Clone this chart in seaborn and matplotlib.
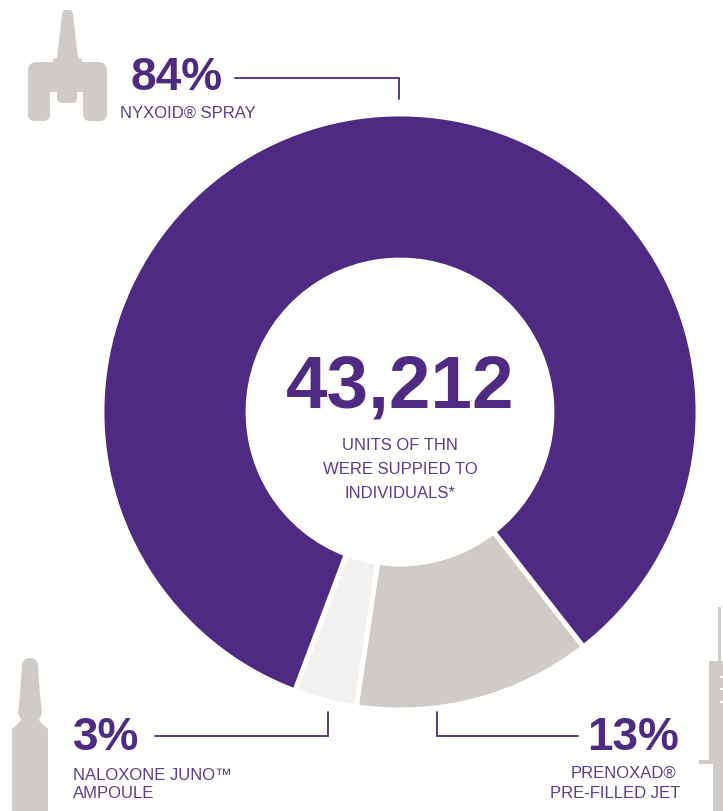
import seaborn as sns
import matplotlib.pyplot as plt
from matplotlib.patches import FancyBboxPatch, Polygon, Rectangle

products = ['PRENOXAD PRE-FILLED JET', 'NALOXONE JUNO AMPOULE', 'NYXOID SPRAY']
shares = [13, 3, 84]
# slice sizes, a bit different from the printed labels
slice_sizes = [12.9, 3.4, 83.7]
total_units = '43,212'

purple = '#4F2A82'
text_purple = '#5A3D8A'
grey = '#D0CBC6'
light = '#F2F1EF'
slice_colors = [grey, light, purple]

sns.set_theme(style='white')
plt.rcParams['font.family'] = ['Liberation Sans', 'DejaVu Sans']

W, H = 723, 811
fig = plt.figure(figsize=(W / 100, H / 100), dpi=100, facecolor='white')

# donut axes, placed in pixels
cx, cy, r = 400, 412, 298
ax = fig.add_axes([(cx - r) / W, (H - cy - r) / H, 2 * r / W, 2 * r / H])
ax.pie(slice_sizes, colors=slice_colors, startangle=-52, counterclock=False, radius=1,
       wedgeprops={'width': 0.49, 'edgecolor': 'white', 'linewidth': 3.5})
ax.set_xlim(-1, 1)
ax.set_ylim(-1, 1)
ax.axis('off')

# overlay in image pixel coords for labels, leader lines, icons
ov = fig.add_axes([0, 0, 1, 1], facecolor='none')
ov.set_xlim(0, W)
ov.set_ylim(H, 0)
ov.axis('off')

ov.text(400, 388, total_units, color=purple, fontsize=53.7, fontweight='bold', ha='center', va='center')
ov.text(400, 446, 'UNITS OF THN', color=text_purple, fontsize=12, ha='center', va='center')
ov.text(400, 469, 'WERE SUPPIED TO', color=text_purple, fontsize=12, ha='center', va='center')
ov.text(400, 493, 'INDIVIDUALS*', color=text_purple, fontsize=12, ha='center', va='center')

ov.text(131, 78, f'{shares[2]}%', color=purple, fontsize=33, fontweight='bold', ha='left', va='center')
ov.text(120, 113, 'NYXOID® SPRAY', color=text_purple, fontsize=12, ha='left', va='center')
ov.text(73, 738, f'{shares[1]}%', color=purple, fontsize=33, fontweight='bold', ha='left', va='center')
ov.text(73, 775, 'NALOXONE JUNO™', color=text_purple, fontsize=12, ha='left', va='center')
ov.text(73, 794, 'AMPOULE', color=text_purple, fontsize=12, ha='left', va='center')
ov.text(679, 738, f'{shares[0]}%', color=purple, fontsize=33, fontweight='bold', ha='right', va='center')
ov.text(676, 773, 'PRENOXAD®', color=text_purple, fontsize=12, ha='right', va='center')
ov.text(680, 793, 'PRE-FILLED JET', color=text_purple, fontsize=12, ha='right', va='center')

# leader lines
line_kw = {'color': purple, 'linewidth': 1.3, 'solid_joinstyle': 'miter'}
ov.plot([235, 399, 399], [77.5, 77.5, 99], **line_kw)
ov.plot([155, 328, 328], [736, 736, 712], **line_kw)
ov.plot([437, 437, 578], [712, 736, 736], **line_kw)


def rounded(x, y, w, h, rad):
    ov.add_patch(FancyBboxPatch((x + rad, y + rad), w - 2 * rad, h - 2 * rad,
                                boxstyle=f'round,pad={rad},rounding_size={rad}', color=grey, lw=0))


# nasal spray icon
ov.add_patch(Polygon([(62, 14), (64, 10), (71, 10), (73, 14), (78, 58), (82, 59), (82, 66),
                      (53, 66), (53, 59), (57, 58)], color=grey, lw=0))
rounded(28, 62, 79, 30, 9)
rounded(28, 70, 22, 51, 7)
rounded(83, 70, 24, 51, 7)
ov.add_patch(Rectangle((50, 62), 33, 21, color=grey, lw=0))
rounded(57, 70, 20, 33, 5)

# ampoule icon
ov.add_patch(Polygon([(22, 664), (24, 660), (28, 658), (32, 658), (36, 660), (38, 664), (40, 695), (42, 713),
                      (39, 720), (42, 724), (48, 729), (48, 811), (12, 811), (12, 729), (18, 724),
                      (21, 720), (18, 713), (20, 695)], color=grey, lw=0))

# syringe icon
ov.add_patch(Rectangle((718, 607), 2.5, 55, color=grey, lw=0))
ov.add_patch(Rectangle((709, 661), 14, 99, color=grey, lw=0))
ov.add_patch(Rectangle((699, 760), 24, 4, color=grey, lw=0))
ov.add_patch(Rectangle((713, 764), 10, 47, color=grey, lw=0))
for y in [676, 688, 701]:
    ov.add_patch(Rectangle((720, y), 3, 1.5, color='white', lw=0))

fig.savefig('out.png', dpi=100)
